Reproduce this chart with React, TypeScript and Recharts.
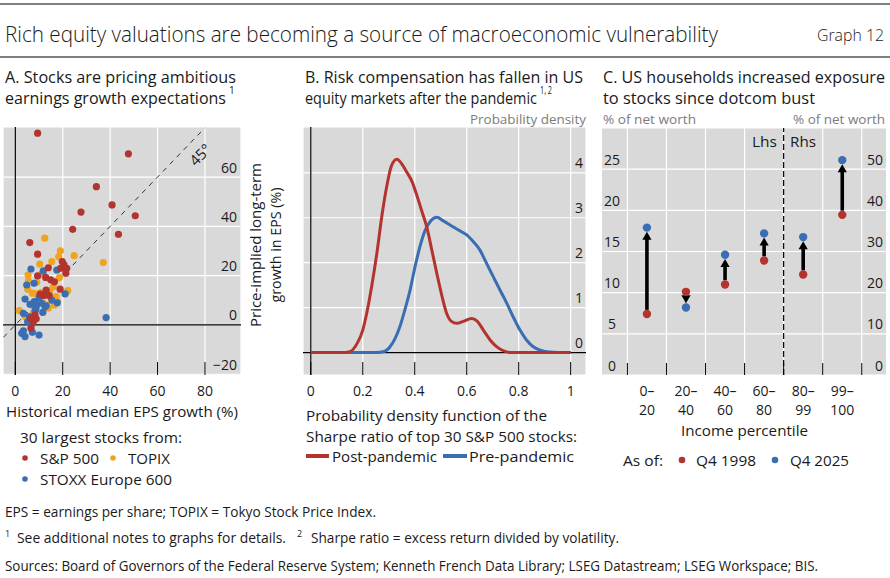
import React from 'react';
import {
  ScatterChart,
  Scatter,
  LineChart,
  Line,
  XAxis,
  YAxis,
  CartesianGrid,
  ReferenceLine,
  ReferenceDot,
} from 'recharts';

const FONT = '"Open Sans", "Noto Sans", "DejaVu Sans", sans-serif';
const INK = '#1a1a1a';
const MUTED = '#7c7c7c';
const PANEL_BG = '#d9d9d9';
const RED = '#b3342e';
const BLUE = '#3a6eb2';
const ORANGE = '#efa420';

// ---- Panel A: historical vs price-implied EPS growth, in per cent ----
const sp500Points: number[][] = [
  [9.4, 77.8], [47.7, 69.4], [34.2, 56.1], [40.8, 48.7], [27.7, 45.8], [50.6, 44.3],
  [24.2, 38.8], [43.5, 36.8], [6.1, 33.4], [9.4, 28.7], [19.8, 25.7], [13.9, 23.2],
  [19.1, 23.0], [21.7, 23.0], [21.3, 21.0], [9.4, 19.9], [12.8, 19.3], [14.9, 18.3],
  [18.9, 14.5], [13.0, 14.1], [14.3, 11.9], [12.1, 11.9], [8.3, 4.1], [6.5, 2.7],
  [7.6, 1.3], [6.6, -1.3], [16.5, 17.5], [10.5, 12.5], [8.8, 2.5], [20.5, 24.5],
];
const topixPoints: number[][] = [
  [12.4, 35.2], [19.0, 30.1], [24.8, 28.1], [18.3, 27.7], [15.4, 25.7], [10.3, 24.7],
  [37.1, 25.3], [5.4, 20.3], [11.1, 20.7], [18.6, 19.2], [5.5, 17.8], [9.0, 17.3],
  [5.2, 14.5], [16.0, 15.5], [22.1, 13.9], [9.0, 12.6], [17.2, 11.5], [15.4, 10.1],
  [11.8, 8.8], [9.7, 9.7], [13.9, 6.8], [1.7, 5.8], [7.6, 4.7], [13.2, 8.1],
  [10.8, 13.1], [17.7, 9.5], [7.2, 12.9], [14.6, 13.9], [4.1, 3.4], [16.5, 8.1],
];
const stoxxPoints: number[][] = [
  [38.3, 3.0], [6.6, 22.7], [17.5, 22.3], [11.8, 21.9], [4.8, 16.2], [7.9, 16.9],
  [21.0, 12.6], [4.1, 10.5], [10.4, 11.9], [6.2, 8.4], [8.0, 9.5], [15.4, 10.1],
  [17.7, 9.0], [13.0, 7.8], [8.7, 6.5], [11.6, 5.1], [3.4, 4.7], [8.3, 5.7],
  [5.2, 1.3], [6.9, 0.3], [3.4, -2.4], [4.1, -4.7], [7.2, -3.0], [10.0, -4.1],
  [2.7, -3.4], [10.1, 11.1], [12.5, 7.4], [9.0, 8.1], [5.9, 3.4], [11.1, 8.8],
];
const epsGrowthTicks = [0, 20, 40, 60, 80];
const impliedGrowthTicks = [-20, 0, 20, 40, 60];

// ---- Panel B: density of the Sharpe ratio ----
const postPandemicDensity: number[][] = [
  [0, 0], [0.12, 0], [0.15, 0.02], [0.18, 0.22], [0.2, 0.5], [0.215, 0.87],
  [0.235, 1.5], [0.254, 2.2], [0.275, 3.1], [0.292, 3.69], [0.31, 4.15], [0.331, 4.3],
  [0.35, 4.2], [0.369, 4.02], [0.39, 3.8], [0.408, 3.5], [0.427, 3.15], [0.446, 2.8],
  [0.465, 2.3], [0.485, 1.76], [0.505, 1.25], [0.523, 0.87], [0.54, 0.7], [0.562, 0.65],
  [0.59, 0.7], [0.619, 0.76], [0.64, 0.7], [0.664, 0.5], [0.69, 0.28], [0.715, 0.13],
  [0.74, 0.04], [0.77, 0], [1, 0],
];
const prePandemicDensity: number[][] = [
  [0, 0], [0.25, 0], [0.285, 0.03], [0.305, 0.13], [0.325, 0.32], [0.343, 0.58],
  [0.362, 0.95], [0.382, 1.39], [0.4, 1.88], [0.42, 2.36], [0.44, 2.72], [0.459, 2.91],
  [0.485, 3.01], [0.51, 2.93], [0.536, 2.84], [0.57, 2.72], [0.6, 2.62], [0.625, 2.47],
  [0.651, 2.28], [0.675, 2.0], [0.702, 1.69], [0.73, 1.37], [0.754, 1.1], [0.78, 0.78],
  [0.805, 0.5], [0.83, 0.28], [0.856, 0.13], [0.89, 0.04], [0.92, 0.01], [0.95, 0], [1, 0],
];
const sharpeTicks = [0, 0.2, 0.4, 0.6, 0.8, 1];
const densityTicks = [0, 1, 2, 3, 4];

// ---- Panel C: equity share of household net worth by income group ----
const incomeGroups = ['0–20', '20–40', '40–60', '60–80', '80–99', '99–100'];
const equityShare1998 = [7.4, 10.1, 11.0, 13.9, 24.4, 38.9];
const equityShare2025 = [17.9, 8.2, 14.6, 17.2, 33.5, 52.2];
const firstRhsGroup = 4;
const lhsTicks = [0, 5, 10, 15, 20, 25];
const rhsTicks = [0, 10, 20, 30, 40, 50];

const toXY = (arr: number[][]) => arr.map(([x, y]) => ({ x, y }));
const fmtNum = (v: number) => (v < 0 ? `\u2212${Math.abs(v)}` : `${v}`);

const dotShape = (fill: string, r: number) => (p: any) =>
  <circle cx={p.cx} cy={p.cy} r={r} fill={fill} />;

function BottomTick(props: any) {
  const { x, y, payload } = props;
  return (
    <g>
      <line x1={x} x2={x} y1={y} y2={y - 13} stroke="#000" strokeWidth={1} />
      <text x={x} y={y + 15} textAnchor="middle" dominantBaseline="central"
        fontFamily={FONT} fontSize={14} fill={INK}>{fmtNum(payload.value)}</text>
    </g>
  );
}

const insideRightTick = (inset: number) => (props: any) => {
  const { x, y, payload } = props;
  return (
    <text x={x - inset} y={y - 10} textAnchor="end" dominantBaseline="central"
      fontFamily={FONT} fontSize={14} fill={INK}>{fmtNum(payload.value)}</text>
  );
};

function InsideLeftTick(props: any) {
  const { x, y, payload } = props;
  return (
    <text x={x + 10} y={y - 10} textAnchor="middle" dominantBaseline="central"
      fontFamily={FONT} fontSize={14} fill={INK}>{fmtNum(payload.value)}</text>
  );
}

function IncomeTick(props: any) {
  const { x, y, payload } = props;
  const v = payload.value as number;
  if (!Number.isInteger(v)) {
    return <line x1={x} x2={x} y1={y} y2={y - 12} stroke="#000" strokeWidth={1} />;
  }
  const [lo, hi] = incomeGroups[v].split('–');
  return (
    <text textAnchor="middle" fontFamily={FONT} fontSize={14} fill={INK} dominantBaseline="central">
      <tspan x={x} y={y + 15}>{`${lo}–`}</tspan>
      <tspan x={x} y={y + 34}>{hi}</tspan>
    </text>
  );
}

// Arrow from the 1998 dot to the 2025 dot, stopping at the dot edges
const arrowShape = (p: any) => {
  const { x1, y1, x2, y2 } = p;
  const dx = x2 - x1;
  const dy = y2 - y1;
  const len = Math.hypot(dx, dy) || 1;
  const ux = dx / len;
  const uy = dy / len;
  const r = 4.2;
  const tipX = x2 - ux * r;
  const tipY = y2 - uy * r;
  const headLen = 8;
  const half = 4.6;
  const bx = tipX - ux * headLen;
  const by = tipY - uy * headLen;
  return (
    <g>
      <line x1={x1 + ux * r} y1={y1 + uy * r} x2={bx + ux} y2={by + uy} stroke="#000" strokeWidth={3.6} />
      <polygon
        points={`${tipX},${tipY} ${bx - uy * half},${by + ux * half} ${bx + uy * half},${by - ux * half}`}
        fill="#000"
      />
    </g>
  );
};

function PanelA() {
  return (
    <ScatterChart width={250} height={285} margin={{ top: 7, right: 8, bottom: 0, left: 3 }}>
      <CartesianGrid fill={PANEL_BG} fillOpacity={1} stroke="#fff" strokeWidth={1.2} />
      <XAxis type="number" dataKey="x" domain={[-5.2, 95.2]} ticks={epsGrowthTicks} interval={0}
        allowDataOverflow height={30} tickSize={0} tickMargin={0} axisLine={false} tickLine={false}
        tick={BottomTick} />
      <YAxis type="number" dataKey="y" orientation="right" width={1} domain={[-20.3, 80.3]}
        ticks={impliedGrowthTicks} interval={0} allowDataOverflow tickSize={0} tickMargin={0}
        axisLine={false} tickLine={false} tick={insideRightTick(4)} />
      <ReferenceLine x={0} stroke="#000" strokeWidth={1.2} />
      <ReferenceLine y={0} stroke="#000" strokeWidth={1.2} />
      <ReferenceLine segment={[{ x: -5, y: -5 }, { x: 80, y: 80 }]} stroke="#333" strokeWidth={1}
        strokeDasharray="5 5" />
      <ReferenceDot x={78} y={69} r={0} fill="none" stroke="none"
        label={{ value: '45°', position: 'center', angle: -45, fontSize: 15, fill: INK, fontFamily: FONT }} />
      <Scatter data={toXY(topixPoints)} shape={dotShape(ORANGE, 3.6)} isAnimationActive={false} />
      <Scatter data={toXY(stoxxPoints)} shape={dotShape(BLUE, 3.6)} isAnimationActive={false} />
      <Scatter data={toXY(sp500Points)} shape={dotShape(RED, 3.6)} isAnimationActive={false} />
    </ScatterChart>
  );
}

function PanelB() {
  return (
    <LineChart width={305} height={285} margin={{ top: 7, right: 8, bottom: 0, left: 13 }}>
      <CartesianGrid fill={PANEL_BG} fillOpacity={1} stroke="#fff" strokeWidth={1.2} />
      <XAxis type="number" dataKey="x" domain={[-0.03, 1.059]} ticks={sharpeTicks} interval={0}
        allowDataOverflow height={30} tickSize={0} tickMargin={0} axisLine={false} tickLine={false}
        tick={BottomTick} />
      <YAxis type="number" orientation="right" width={1} domain={[-0.5, 5.02]} ticks={densityTicks}
        interval={0} allowDataOverflow tickSize={0} tickMargin={0} axisLine={false} tickLine={false}
        tick={insideRightTick(3)} />
      <ReferenceLine x={0} stroke="#000" strokeWidth={1.2} />
      <ReferenceLine y={0} stroke="#000" strokeWidth={1.2} />
      <Line data={toXY(prePandemicDensity)} dataKey="y" type="monotone" stroke={BLUE} strokeWidth={3}
        dot={false} activeDot={false} isAnimationActive={false} />
      <Line data={toXY(postPandemicDensity)} dataKey="y" type="monotone" stroke={RED} strokeWidth={3}
        dot={false} activeDot={false} isAnimationActive={false} />
    </LineChart>
  );
}

function PanelC() {
  const bandEdges = incomeGroups.map((_, i) => i - 0.5).concat(incomeGroups.length - 0.5);
  const centres = incomeGroups.map((_, i) => i);
  const allTicks = [...bandEdges, ...centres].sort((a, b) => a - b);
  const pts = (vals: number[], rhs: boolean) =>
    vals.map((y, x) => ({ x, y })).filter((d) => (d.x >= firstRhsGroup) === rhs);
  return (
    <ScatterChart width={295} height={300} margin={{ top: 8, right: 3, bottom: 0, left: 6 }}>
      <CartesianGrid fill={PANEL_BG} fillOpacity={1} stroke="#fff" strokeWidth={1.2} yAxisId="lhs"
        verticalValues={bandEdges} />
      <XAxis type="number" dataKey="x" domain={[-1.15, 6.12]} ticks={allTicks} interval={0}
        allowDataOverflow height={45} tickSize={0} tickMargin={0} axisLine={false} tickLine={false}
        tick={IncomeTick} />
      <YAxis yAxisId="lhs" type="number" dataKey="y" orientation="left" width={1} domain={[0, 30]}
        ticks={lhsTicks} interval={0} allowDataOverflow tickSize={0} tickMargin={0} axisLine={false}
        tickLine={false} tick={InsideLeftTick} />
      <YAxis yAxisId="rhs" type="number" dataKey="y" orientation="right" width={1} domain={[0, 60]}
        ticks={rhsTicks} interval={0} allowDataOverflow tickSize={0} tickMargin={0} axisLine={false}
        tickLine={false} tick={insideRightTick(3)} />
      <ReferenceLine yAxisId="lhs" x={firstRhsGroup - 0.5} stroke="#000" strokeWidth={1.2}
        strokeDasharray="6 3" />
      {incomeGroups.map((g, i) => (
        <ReferenceLine key={g} yAxisId={i >= firstRhsGroup ? 'rhs' : 'lhs'}
          segment={[{ x: i, y: equityShare1998[i] }, { x: i, y: equityShare2025[i] }]}
          shape={arrowShape} />
      ))}
      <Scatter yAxisId="lhs" data={pts(equityShare1998, false)} shape={dotShape(RED, 4.2)} isAnimationActive={false} />
      <Scatter yAxisId="rhs" data={pts(equityShare1998, true)} shape={dotShape(RED, 4.2)} isAnimationActive={false} />
      <Scatter yAxisId="lhs" data={pts(equityShare2025, false)} shape={dotShape(BLUE, 4.2)} isAnimationActive={false} />
      <Scatter yAxisId="rhs" data={pts(equityShare2025, true)} shape={dotShape(BLUE, 4.2)} isAnimationActive={false} />
    </ScatterChart>
  );
}

type TxtProps = {
  t: string;
  x: number;
  y: number;
  w?: number;
  size?: number;
  anchor?: 'start' | 'middle' | 'end';
  fill?: string;
  weight?: number;
  rotate?: boolean;
};

function Txt({ t, x, y, w, size = 14.5, anchor = 'start', fill = INK, weight = 400, rotate }: TxtProps) {
  return (
    <text x={x} y={y} fontSize={size} fontFamily={FONT} fill={fill} fontWeight={weight}
      textAnchor={anchor} dominantBaseline="central"
      textLength={w} lengthAdjust={w ? 'spacingAndGlyphs' : undefined}
      transform={rotate ? `rotate(-90 ${x} ${y})` : undefined}>
      {t}
    </text>
  );
}

function Annotations() {
  return (
    <svg width={890} height={578} style={{ position: 'absolute', left: 0, top: 0 }}>
      <line x1={0} x2={890} y1={4} y2={4} stroke="#000" strokeWidth={1} />
      <Txt t="Rich equity valuations are becoming a source of macroeconomic vulnerability"
        x={5} y={33} w={713} size={22} weight={300} />
      <Txt t="Graph 12" x={817} y={34} w={67} size={17} weight={300} />
      <line x1={0} x2={890} y1={57} y2={57} stroke="#000" strokeWidth={1} />

      <Txt t="A. Stocks are pricing ambitious" x={5} y={76} w={231} size={17} />
      <Txt t="earnings growth expectations" x={5} y={97} w={221} size={17} />
      <Txt t="1" x={229} y={90} size={10} />
      <Txt t="B. Risk compensation has fallen in US" x={305} y={76} w={278} size={17} />
      <Txt t="equity markets after the pandemic" x={305} y={97} w={232} size={17} />
      <Txt t="1, 2" x={540} y={90} w={12} size={10} />
      <Txt t="C. US households increased exposure" x={603} y={76} w={282} size={17} />
      <Txt t="to stocks since dotcom bust" x={603} y={97} w={212} size={17} />

      <Txt t="Probability density" x={586} y={119} w={116} size={13.5} anchor="end" fill={MUTED} />
      <Txt t="% of net worth" x={603} y={119} w={93} size={13.5} fill={MUTED} />
      <Txt t="% of net worth" x={885} y={119} w={92} size={13.5} anchor="end" fill={MUTED} />

      <Txt t="Price-implied long-term" x={255} y={245} w={164} anchor="middle" rotate />
      <Txt t="growth in EPS (%)" x={275} y={245} w={115} anchor="middle" rotate />
      <Txt t="Historical median EPS growth (%)" x={6} y={411} w={232} />
      <Txt t="30 largest stocks from:" x={20} y={437} w={162} />
      <circle cx={25} cy={458} r={2.8} fill={RED} />
      <Txt t="S&P 500" x={40} y={458} w={59} />
      <circle cx={113} cy={458} r={2.8} fill={ORANGE} />
      <Txt t="TOPIX" x={128} y={458} w={42} />
      <circle cx={25} cy={479} r={2.8} fill={BLUE} />
      <Txt t="STOXX Europe 600" x={40} y={479} w={132} />

      <Txt t="Probability density function of the" x={306} y={415} w={241} />
      <Txt t="Sharpe ratio of top 30 S&P 500 stocks:" x={306} y={436} w={271} />
      <rect x={306} y={454} width={23} height={4} fill={RED} />
      <Txt t="Post-pandemic" x={332} y={456} w={105} />
      <rect x={443} y={454} width={24} height={4} fill={BLUE} />
      <Txt t="Pre-pandemic" x={469} y={456} w={105} />

      <Txt t="Lhs" x={752} y={141} w={25} />
      <Txt t="Rhs" x={790} y={141} w={26} />
      <Txt t="Income percentile" x={681} y={430} w={127} />
      <Txt t="As of:" x={623} y={460} w={40} />
      <circle cx={682} cy={460} r={3.3} fill={RED} />
      <Txt t="Q4 1998" x={696} y={460} w={60} />
      <circle cx={775} cy={460} r={3.3} fill={BLUE} />
      <Txt t="Q4 2025" x={790} y={460} w={59} />

      <Txt t="EPS = earnings per share; TOPIX = Tokyo Stock Price Index." x={5} y={511} w={371} size={14} />
      <Txt t="1" x={5} y={533} size={9} />
      <Txt t="See additional notes to graphs for details." x={17} y={537} w={269} size={14} />
      <Txt t="2" x={297} y={533} size={9} />
      <Txt t="Sharpe ratio = excess return divided by volatility." x={311} y={537} w={308} size={14} />
      <Txt t="Sources: Board of Governors of the Federal Reserve System; Kenneth French Data Library; LSEG Datastream; LSEG Workspace; BIS."
        x={5} y={565} w={813} size={14} />
    </svg>
  );
}

export default function App() {
  return (
    <div style={{ position: 'absolute', left: 0, top: 0, width: 890, height: 578, background: '#fff', overflow: 'hidden', fontFamily: FONT }}>
      <div style={{ position: 'absolute', left: 0, top: 120 }}><PanelA /></div>
      <div style={{ position: 'absolute', left: 290, top: 120 }}><PanelB /></div>
      <div style={{ position: 'absolute', left: 595, top: 120 }}><PanelC /></div>
      <Annotations />
    </div>
  );
}
